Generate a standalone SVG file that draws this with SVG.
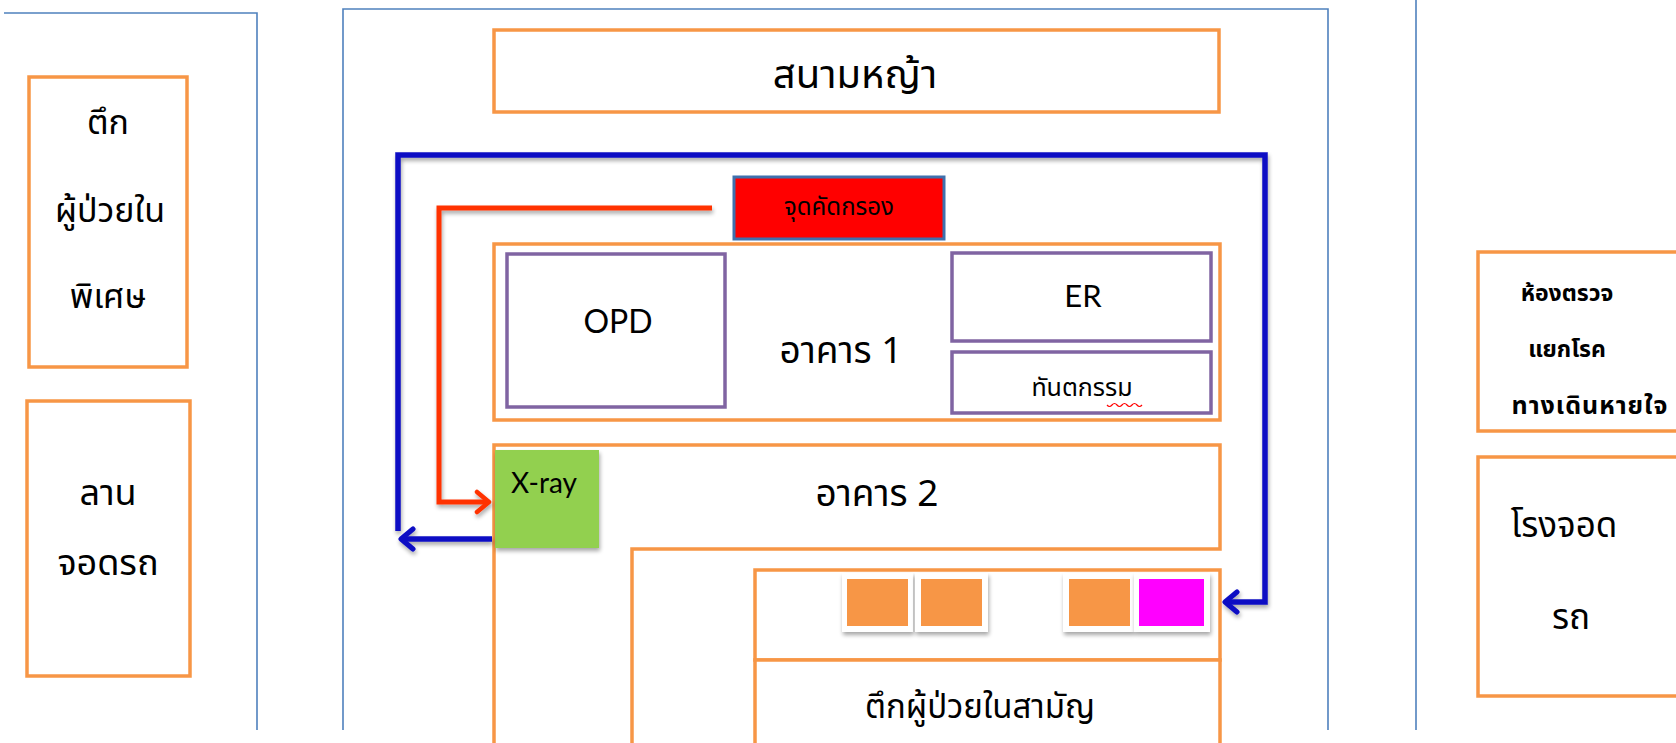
<svg xmlns="http://www.w3.org/2000/svg" width="1676" height="743" viewBox="0 0 1676 743">
<style>
.frame{fill:none;stroke:#4f81bd;stroke-width:1.6}
.or{fill:#fff;stroke:#f79646;stroke-width:3.5}
.pu{fill:#fff;stroke:#8064a2;stroke-width:3.5}
.t{font-family:"Noto Sans Thai","Noto Sans","DejaVu Sans",sans-serif;fill:#000;text-anchor:middle;dominant-baseline:central}
.l{font-family:Lato,"Open Sans",sans-serif;fill:#000;text-anchor:middle;dominant-baseline:central}
.blue{fill:none;stroke:#0c0cc4;stroke-width:5.5;stroke-linejoin:miter}
.red{fill:none;stroke:#ff3300;stroke-width:5;stroke-linejoin:miter}
.sqf{fill:#fff;filter:url(#sh)}
</style>
<defs>
<filter id="sh" x="-20%" y="-20%" width="150%" height="150%">
<feGaussianBlur in="SourceAlpha" stdDeviation="2"/>
<feOffset dx="1" dy="3" result="b"/>
<feComponentTransfer><feFuncA type="linear" slope="0.35"/></feComponentTransfer>
<feMerge><feMergeNode/><feMergeNode in="SourceGraphic"/></feMerge>
</filter>
<marker id="ab" viewBox="-16 -13 20 26" markerWidth="20" markerHeight="26" refX="0" refY="0" orient="auto" markerUnits="userSpaceOnUse">
<path d="M-12,-10 L0,0 L-12,10" fill="none" stroke="#0c0cc4" stroke-width="5" stroke-linecap="round" stroke-linejoin="round"/>
</marker>
<marker id="ar" viewBox="-16 -13 20 26" markerWidth="20" markerHeight="26" refX="0" refY="0" orient="auto" markerUnits="userSpaceOnUse">
<path d="M-12,-10 L0,0 L-12,10" fill="none" stroke="#ff3300" stroke-width="4.5" stroke-linecap="round" stroke-linejoin="round"/>
</marker>
</defs>
<rect width="1676" height="743" fill="#fff"/>

<g id="frames">
<path class="frame" d="M4,13 H257 V730"/>
<path class="frame" d="M343,730 V9 H1328 V730"/>
<path class="frame" d="M1416,0 V730"/>
</g>

<g id="ward-special">
<rect class="or" x="29" y="77" width="158" height="290"/>
<text class="t" x="108" y="123" font-size="34">ตึก</text>
<text class="t" x="110" y="211" font-size="34">ผู้ป่วยใน</text>
<text class="t" x="108" y="297" font-size="34">พิเศษ</text>
</g>

<g id="parking-lot">
<rect class="or" x="27" y="401" width="163" height="275"/>
<text class="t" x="108" y="494" font-size="36">ลาน</text>
<text class="t" x="108" y="564" font-size="36">จอดรถ</text>
</g>

<g id="lawn">
<rect class="or" x="494" y="30" width="725" height="82"/>
<text class="t" x="855" y="76" font-size="40">สนามหญ้า</text>
</g>

<g id="building1">
<rect class="or" x="494" y="244" width="726" height="176"/>
<text class="t" x="841" y="352" font-size="37">อาคาร 1</text>
</g>

<g id="opd">
<rect class="pu" x="507" y="254" width="218" height="153"/>
<text class="l" x="618" y="320" font-size="32">OPD</text>
</g>

<g id="er">
<rect class="pu" x="952" y="253" width="259" height="88"/>
<text class="l" x="1083" y="295" font-size="31">ER</text>
</g>

<g id="dental">
<rect class="pu" x="952" y="352" width="259" height="61"/>
<text class="t" x="1082" y="388" font-size="25">ทันตกรรม</text>
<path d="M1107,405 q2.5,3 5,0 t5,0 t5,0 t5,0 t5,0 t5,0 t5,0" fill="none" stroke="#ff0000" stroke-width="1.2"/>
</g>

<g id="screening">
<rect x="734" y="177" width="210" height="62" fill="#ff0000" stroke="#3f70ad" stroke-width="3"/>
<text class="t" x="839" y="208" font-size="24">จุดคัดกรอง</text>
</g>

<g id="building2">
<path class="or" d="M494,760 V445 H1220 V549 H632 V760"/>
<text class="t" x="877" y="495" font-size="37">อาคาร 2</text>
</g>

<g id="xray">
<rect x="495" y="450" width="104" height="98" fill="#92d050" filter="url(#sh)"/>
<text class="l" x="544" y="482" font-size="28">X-ray</text>
</g>

<g id="beds">
<rect class="or" x="755" y="570" width="465" height="90"/>
<rect class="sqf" x="842" y="573" width="71" height="59"/>
<rect x="847" y="579" width="61" height="47" fill="#f79646"/>
<rect class="sqf" x="915" y="573" width="73" height="59"/>
<rect x="921" y="579" width="61" height="47" fill="#f79646"/>
<rect class="sqf" x="1063" y="573" width="71" height="59"/>
<rect x="1069" y="579" width="61" height="47" fill="#f79646"/>
<rect class="sqf" x="1134" y="573" width="76" height="59"/>
<rect x="1139" y="579" width="65" height="47" fill="#ff00ff"/>
</g>

<g id="ward-general">
<rect class="or" x="755" y="660" width="465" height="120"/>
<text class="t" x="980" y="708" font-size="33">ตึกผู้ป่วยในสามัญ</text>
</g>

<g id="respiratory-clinic">
<rect class="or" x="1478" y="252" width="220" height="179"/>
<text class="t" x="1567" y="294" font-size="23" font-weight="bold">ห้องตรวจ</text>
<text class="t" x="1567" y="350" font-size="23" font-weight="bold">แยกโรค</text>
<text class="t" x="1590" y="406" font-size="25" font-weight="bold" letter-spacing="1">ทางเดินหายใจ</text>
</g>

<g id="garage">
<rect class="or" x="1478" y="457" width="220" height="239"/>
<text class="t" x="1564" y="526" font-size="35">โรงจอด</text>
<text class="t" x="1571" y="618" font-size="35">รถ</text>
</g>

<g id="connectors" filter="url(#sh)">
<path class="blue" d="M398,531 V155 H1265 V602 H1225" marker-end="url(#ab)"/>
<path class="blue" d="M492,539 H401" marker-end="url(#ab)"/>
<path class="red" d="M712,208 H439 V502 H489" marker-end="url(#ar)"/>
</g>
</svg>
